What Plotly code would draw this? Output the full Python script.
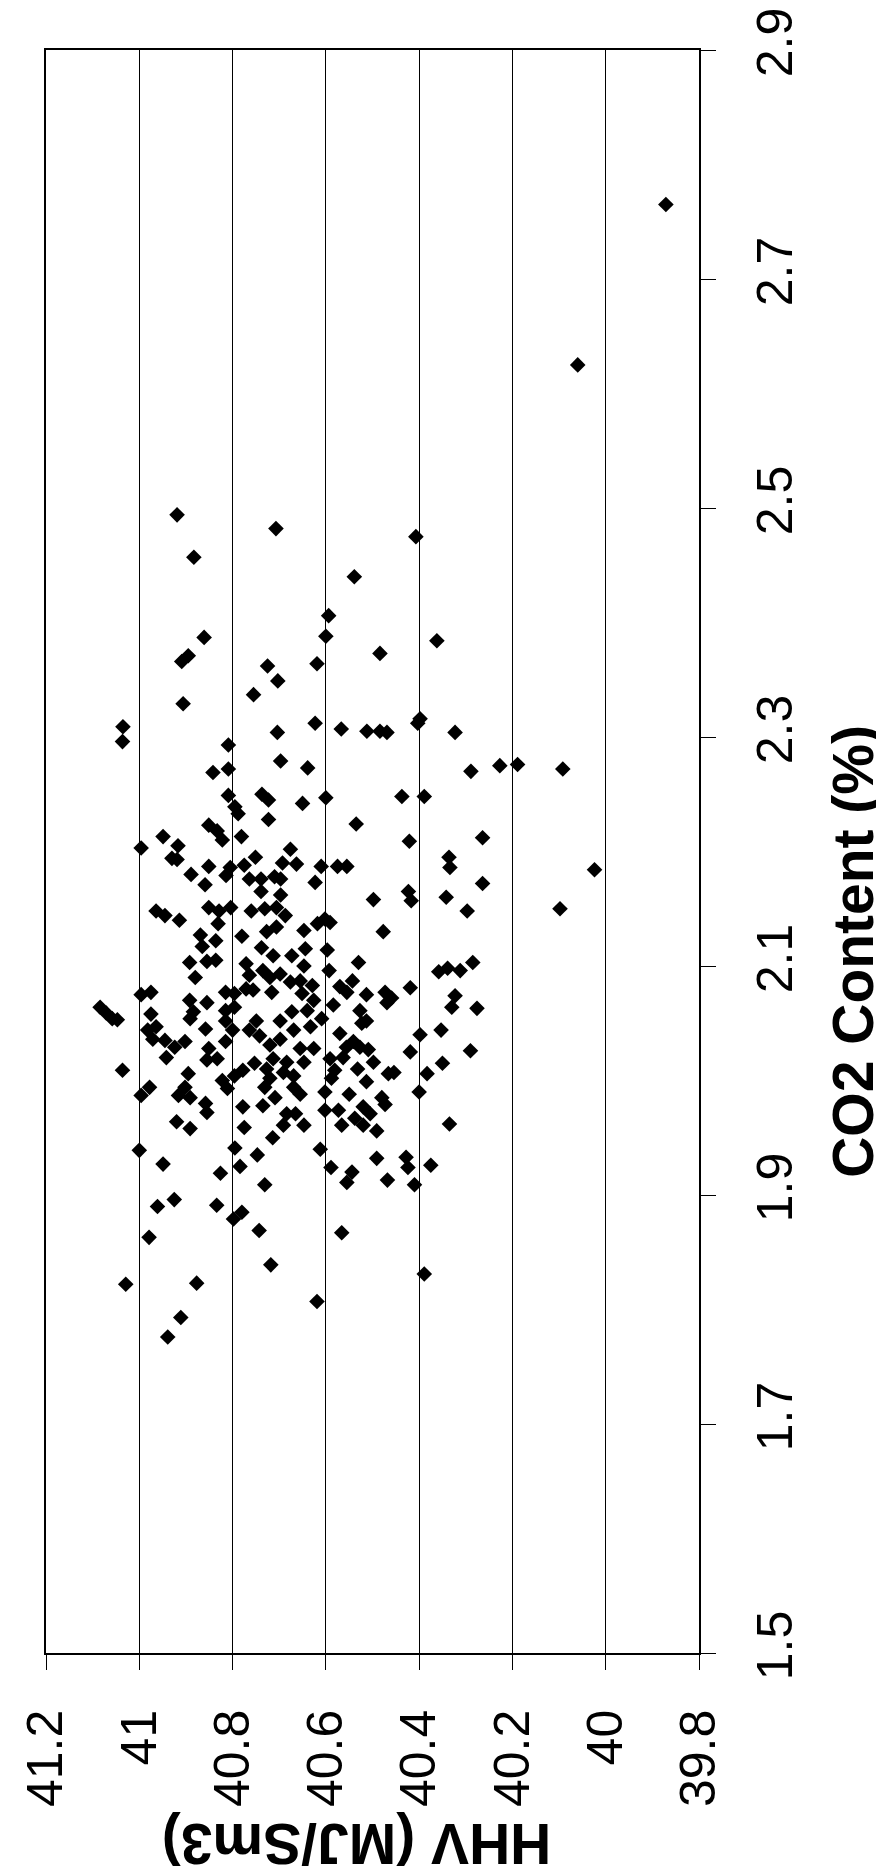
import plotly.graph_objects as go

# HHV (MJ/Sm3) values and CO2 content (%) values
hhv = [
    # upper cluster
    40.919, 40.883, 40.861, 40.909, 40.895, 40.707, 40.725, 40.619,
    40.407, 40.539, 40.594, 40.600, 40.484, 40.362,
    41.035, 41.036, 40.906, 40.703, 40.755, 40.623, 40.704, 40.809, 40.697, 40.639,
    40.842, 40.809, 40.809, 40.737, 40.723, 40.650, 40.795, 40.788, 40.723, 40.851,
    40.833, 40.822, 40.781, 40.949, 40.917, 40.996, 40.930, 40.919, 40.889, 40.851,
    40.859, 40.805, 40.814, 40.775, 40.751, 40.676, 40.693, 40.663, 40.764, 40.739,
    40.710, 40.697, 40.623, 40.739, 40.697,
    40.567, 40.512, 40.484, 40.469, 40.398, 40.403, 40.323, 40.289, 40.227, 40.189,
    40.600, 40.437, 40.389, 40.535, 40.421, 40.264, 40.336, 40.334, 40.610, 40.575,
    40.555, 40.264, 40.498, 40.423, 40.417, 40.342,
    # middle cluster (left part)
    40.964, 40.945, 40.914, 40.851, 40.829, 40.804, 40.760, 40.731, 40.706, 40.687,
    40.831, 40.869, 40.836, 40.865, 40.780, 40.727, 40.706, 40.647, 40.618, 40.738,
    40.713, 40.673, 40.644, 40.892, 40.855, 40.836, 40.771, 40.647, 40.880, 40.764,
    40.735, 40.720, 40.698, 40.676, 40.655, 40.629, 40.996, 40.975, 40.815, 40.796,
    40.771, 40.756, 40.716, 40.651, 40.626, 40.892, 40.855, 40.884, 40.975, 40.815,
    40.796, 41.047, 40.891, 40.749, 40.698, 40.673, 40.640, 40.982, 40.964, 40.858,
    40.815, 40.800, 40.764, 40.742, 40.669, 40.633, 40.971, 40.945, 40.902, 40.924,
    40.942, 40.851, 40.815, 40.720, 40.698, 40.655, 40.626, 40.855, 40.833, 40.753,
    40.713, 40.684, 40.647, 41.036, 40.895, 40.796, 40.778, 40.727, 40.691, 40.669,
    40.720, 40.822, 40.811, 40.902, 40.978, 40.996, 40.891, 40.916, 40.731, 40.709,
    40.669, 40.655, 40.778, 40.858, 40.855, 40.735, 40.684, 40.665, 40.920, 40.891,
    40.775, 40.691, 40.647,
    # middle cluster (right part)
    40.297, 40.602, 40.591, 40.477, 40.597, 40.530, 40.593, 40.358, 40.339, 40.312,
    40.285, 40.543, 40.570, 40.555, 40.513, 40.473, 40.459, 40.469, 40.419, 40.323,
    40.330, 40.276, 40.584, 40.527, 40.513, 40.523, 40.609, 40.398, 40.353, 40.570,
    40.541, 40.556, 40.527, 40.509, 40.419, 40.290, 40.591, 40.563, 40.498, 40.532,
    40.581, 40.466, 40.454, 40.513, 40.588, 40.383, 40.350, 40.602, 40.550, 40.480,
    40.473, 40.400, 40.602, 40.573, 40.520, 40.505, 40.538, 40.566, 40.520, 40.491,
    40.335,
    # lower cluster
    41.000, 40.949, 40.795, 40.784, 40.747, 40.714, 40.612, 40.826, 40.731, 40.961,
    40.925, 40.834, 40.798, 40.780, 40.743, 40.979, 40.718, 41.029, 40.877, 40.619,
    40.911, 40.939,
    40.589, 40.491, 40.428, 40.424, 40.544, 40.555, 40.468, 40.410, 40.375, 40.566,
    40.389,
    # outlying points
    39.871, 40.060, 40.092, 40.024, 40.098, 41.084, 41.071, 41.058,
]

co2 = [
    2.494, 2.457, 2.387, 2.366, 2.371, 2.482, 2.362, 2.364,
    2.475, 2.440, 2.406, 2.388, 2.373, 2.384,
    2.309, 2.296, 2.329, 2.349, 2.337, 2.312, 2.304, 2.293, 2.279, 2.273,
    2.269, 2.272, 2.249, 2.250, 2.245, 2.242, 2.239, 2.233, 2.228, 2.223,
    2.218, 2.210, 2.213, 2.213, 2.205, 2.203, 2.194, 2.193, 2.180, 2.187,
    2.171, 2.186, 2.179, 2.188, 2.195, 2.202, 2.190, 2.189, 2.176, 2.176,
    2.178, 2.176, 2.173, 2.165, 2.162,
    2.307, 2.305, 2.305, 2.304, 2.316, 2.312, 2.304, 2.270, 2.275, 2.276,
    2.247, 2.248, 2.248, 2.224, 2.209, 2.212, 2.195, 2.186, 2.187, 2.187,
    2.187, 2.172, 2.158, 2.165, 2.157, 2.160,
    2.148, 2.144, 2.140, 2.151, 2.148, 2.151, 2.148, 2.150, 2.151, 2.144,
    2.137, 2.127, 2.122, 2.117, 2.126, 2.130, 2.134, 2.131, 2.137, 2.116,
    2.109, 2.109, 2.115, 2.103, 2.104, 2.105, 2.102, 2.100, 2.090, 2.092,
    2.096, 2.090, 2.093, 2.086, 2.087, 2.083, 2.075, 2.077, 2.077, 2.076,
    2.080, 2.079, 2.077, 2.076, 2.070, 2.070, 2.068, 2.060, 2.058, 2.061,
    2.064, 2.053, 2.054, 2.052, 2.052, 2.060, 2.061, 2.044, 2.047, 2.045,
    2.052, 2.044, 2.044, 2.039, 2.044, 2.047, 2.036, 2.035, 2.034, 2.029,
    2.020, 2.028, 2.034, 2.031, 2.036, 2.028, 2.028, 2.018, 2.019, 2.015,
    2.019, 2.016, 2.016, 2.009, 2.006, 2.004, 2.009, 2.010, 2.007, 2.004,
    2.002, 2.000, 1.993, 1.994, 1.994, 1.987, 1.985, 1.987, 1.994, 1.985,
    1.994, 1.988, 1.977, 1.980, 1.972, 1.978, 1.971, 1.971, 1.964, 1.958,
    1.959, 1.961, 1.961,
    2.148, 2.141, 2.138, 2.130, 2.114, 2.103, 2.096, 2.095, 2.098, 2.096,
    2.103, 2.087, 2.082, 2.077, 2.075, 2.077, 2.072, 2.068, 2.081, 2.074,
    2.064, 2.063, 2.066, 2.061, 2.052, 2.050, 2.054, 2.040, 2.044, 2.041,
    2.034, 2.029, 2.029, 2.027, 2.025, 2.026, 2.019, 2.020, 2.016, 2.010,
    2.009, 2.006, 2.007, 1.999, 2.002, 2.006, 2.015, 1.990, 1.988, 1.985,
    1.979, 1.990, 1.974, 1.974, 1.977, 1.971, 1.967, 1.961, 1.961, 1.956,
    1.962,
    1.939, 1.927, 1.941, 1.925, 1.935, 1.950, 1.940, 1.919, 1.909, 1.890,
    1.896, 1.891, 1.879, 1.885, 1.869, 1.863, 1.839, 1.822, 1.823, 1.807,
    1.793, 1.776,
    1.924, 1.932, 1.933, 1.924, 1.920, 1.911, 1.913, 1.909, 1.926, 1.867,
    1.831,
    2.765, 2.625, 2.272, 2.184, 2.150, 2.064, 2.059, 2.054,
]

hhv_ticks = [41.2, 41.0, 40.8, 40.6, 40.4, 40.2, 40.0, 39.8]
hhv_tick_labels = ["41.2", "41", "40.8", "40.6", "40.4", "40.2", "40", "39.8"]
co2_ticks = [1.5, 1.7, 1.9, 2.1, 2.3, 2.5, 2.7, 2.9]
co2_tick_labels = ["1.5", "1.7", "1.9", "2.1", "2.3", "2.5", "2.7", "2.9"]

x_title = "HHV (MJ/Sm3)"
y_title = "CO2 Content (%)"

FONT = "Liberation Sans, Arial, sans-serif"

fig = go.Figure()
fig.add_trace(go.Scatter(
    x=hhv, y=co2, mode="markers",
    marker=dict(symbol="diamond", size=12, color="black", line=dict(width=0)),
    showlegend=False, hoverinfo="x+y",
))

fig.update_layout(
    width=884, height=1875,
    margin=dict(l=38, r=193, t=42, b=230, autoexpand=False),
    paper_bgcolor="white", plot_bgcolor="white",
    font=dict(family=FONT, color="black"),
    xaxis=dict(
        range=[41.2, 39.8], tickmode="array",
        tickvals=hhv_ticks, ticktext=hhv_tick_labels,
        tickangle=-90, ticks="outside", ticklen=15, tickcolor="black", tickwidth=1,
        ticklabelstandoff=20, automargin=False, ticklabeloverflow="allow",
        tickfont=dict(family=FONT, size=50, color="black"),
        showgrid=True, gridcolor="black", gridwidth=1,
        showline=True, linecolor="black", linewidth=1.5, mirror=True,
        zeroline=False,
    ),
    yaxis=dict(
        range=[1.5, 2.9], side="right", tickmode="array",
        tickvals=co2_ticks, ticktext=co2_tick_labels,
        tickangle=-90, ticks="outside", ticklen=15, tickcolor="black", tickwidth=1,
        ticklabelstandoff=16, automargin=False, ticklabeloverflow="allow",
        tickfont=dict(family=FONT, size=50, color="black"),
        showgrid=False,
        showline=True, linecolor="black", linewidth=1.5, mirror=True,
        zeroline=False,
    ),
    annotations=[
        dict(text="<b>" + y_title + "</b>", xref="paper", yref="paper",
             x=1.236, y=0.4375, xanchor="center", yanchor="middle",
             textangle=-90, showarrow=False,
             font=dict(family=FONT, size=57, color="black")),
        dict(text="<b>" + x_title + "</b>", xref="paper", yref="paper",
             x=0.475, y=-0.1187, xanchor="center", yanchor="middle",
             textangle=180, showarrow=False,
             font=dict(family=FONT, size=57, color="black")),
    ],
)

fig.write_html("out.html")
